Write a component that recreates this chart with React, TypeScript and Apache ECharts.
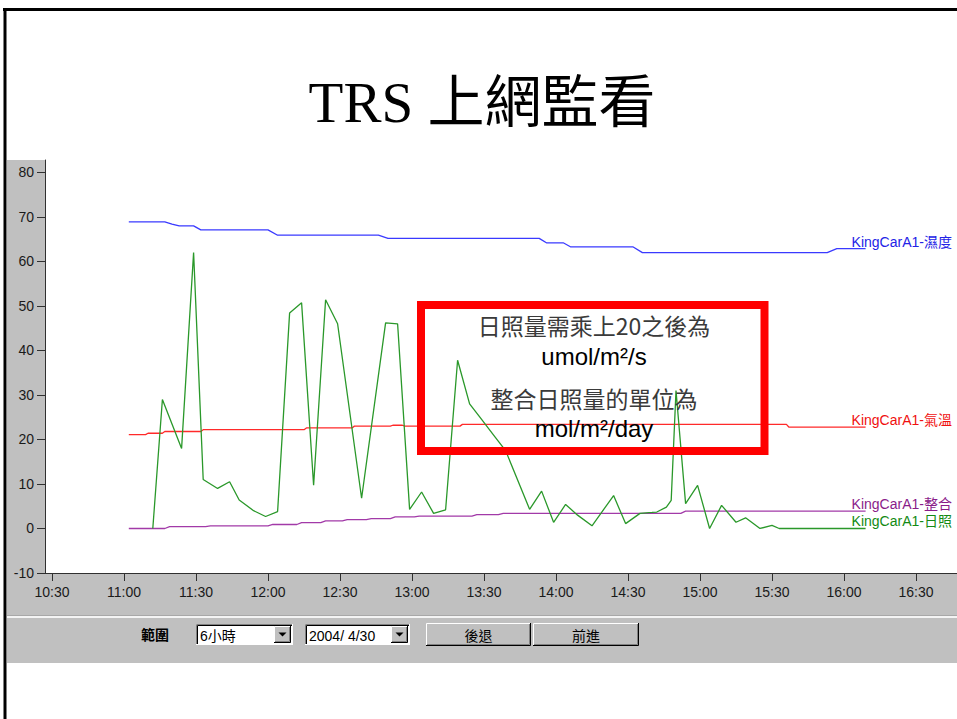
import React, { useEffect, useRef } from "react";
import * as echarts from "echarts";

// ---- data (minutes after 11:00) ----
const xTickLabels = ["10:30", "11:00", "11:30", "12:00", "12:30", "13:00", "13:30", "14:00", "14:30", "15:00", "15:30", "16:00", "16:30"];
const yTicks = [-10, 0, 10, 20, 30, 40, 50, 60, 70, 80];

const humidityTimes = [2, 17, 20, 23, 29, 32, 60, 64, 106, 110, 173, 176, 183, 186, 212, 216, 293, 297, 309];
const humidityValues = [68.9, 68.9, 68.4, 68.0, 68.0, 67.1, 67.1, 65.9, 65.9, 65.2, 65.2, 64.2, 64.2, 63.3, 63.3, 62.0, 62.0, 62.9, 62.9];

const tempTimes = [2, 9, 10, 16, 17, 32, 33, 75, 76, 95, 96, 111, 112, 116, 117, 140, 141, 276, 277, 309];
const tempValues = [21.1, 21.1, 21.4, 21.4, 21.8, 21.8, 22.2, 22.2, 22.6, 22.6, 23.0, 23.0, 23.2, 23.2, 23.0, 23.0, 23.4, 23.4, 22.8, 22.8];

const integTimes = [2, 17, 19, 34, 36, 60, 62, 72, 74, 82, 84, 91, 93, 101, 103, 111, 113, 121, 123, 145, 147, 156, 158, 232, 234, 309];
const integValues = [0, 0, 0.4, 0.4, 0.6, 0.6, 0.9, 0.9, 1.3, 1.3, 1.7, 1.7, 2.0, 2.0, 2.2, 2.2, 2.6, 2.6, 2.8, 2.8, 3.1, 3.1, 3.4, 3.4, 3.9, 3.9];

const sunTimes = [12, 16, 24, 29, 33, 39, 44, 48, 54, 59, 64, 69, 74, 79, 84, 89, 99, 109, 114, 119, 124, 129, 134, 139, 144, 149, 154, 159, 169, 174, 179, 184, 189, 195, 204, 209, 215, 220, 222, 226, 228, 230, 234, 239, 244, 249, 255, 259, 265, 270, 273, 309];
const sunValues = [0, 29, 18, 62, 11, 9, 10.5, 6.4, 4, 2.7, 3.8, 48.4, 50.7, 9.7, 51.4, 46, 6.8, 46.2, 46, 4.3, 8.2, 3.4, 4.2, 37.8, 28, 24.5, 21, 17.5, 4.3, 8.4, 1.4, 5.4, 3, 0.6, 7.4, 1.1, 3.4, 3.6, 3.7, 4.8, 6.3, 31, 5.6, 9.7, 0, 5.2, 1.4, 2.4, 0, 0.7, 0, 0];

const seriesNames = ["KingCarA1-濕度", "KingCarA1-氣溫", "KingCarA1-整合", "KingCarA1-日照"];
const seriesColors = ["#3a3aff", "#ff2a2a", "#a23aa8", "#2a982a"];
const labelColors = ["#2323e6", "#f01010", "#8a1c8a", "#138a13"];

const noteLines = ["日照量需乘上20之後為", "umol/m²/s", "整合日照量的單位為", "mol/m²/day"];

const BASE = 660; // 11:00 in minutes
const toMin = (s: string) => {
  const [h, m] = s.split(":").map(Number);
  return h * 60 + m;
};
const fmtClock = (v: number) => {
  const h = Math.floor(v / 60);
  const m = Math.round(v - h * 60);
  return `${h}:${m < 10 ? "0" + m : m}`;
};

const pairs = (ts: number[], vs: number[]) => ts.map((t, i) => [BASE + t, vs[i]]);

const UI_FONT = "'Liberation Sans', 'Noto Sans CJK TC', sans-serif";

function sunken(x: number, y: number, w: number, h: number): any[] {
  return [
    { type: "rect", z: 20, shape: { x, y, width: w, height: h }, style: { fill: "#ffffff" } },
    { type: "polyline", z: 21, shape: { points: [[x + 0.5, y + h], [x + 0.5, y + 0.5], [x + w, y + 0.5]] }, style: { stroke: "#808080", lineWidth: 1, fill: null } },
    { type: "polyline", z: 21, shape: { points: [[x + 1.5, y + h - 1], [x + 1.5, y + 1.5], [x + w - 1, y + 1.5]] }, style: { stroke: "#000000", lineWidth: 1, fill: null } },
    { type: "polyline", z: 21, shape: { points: [[x, y + h - 0.5], [x + w - 0.5, y + h - 0.5], [x + w - 0.5, y]] }, style: { stroke: "#ffffff", lineWidth: 1, fill: null } },
  ];
}

function raised(x: number, y: number, w: number, h: number): any[] {
  return [
    { type: "rect", z: 20, shape: { x, y, width: w, height: h }, style: { fill: "#c0c0c0" } },
    { type: "polyline", z: 21, shape: { points: [[x + 0.5, y + h], [x + 0.5, y + 0.5], [x + w, y + 0.5]] }, style: { stroke: "#ffffff", lineWidth: 1, fill: null } },
    { type: "polyline", z: 21, shape: { points: [[x, y + h - 0.5], [x + w - 0.5, y + h - 0.5], [x + w - 0.5, y]] }, style: { stroke: "#000000", lineWidth: 1, fill: null } },
    { type: "polyline", z: 21, shape: { points: [[x + 1, y + h - 1.5], [x + w - 1.5, y + h - 1.5], [x + w - 1.5, y + 1]] }, style: { stroke: "#808080", lineWidth: 1, fill: null } },
  ];
}

function combo(x: number, y: number, w: number, h: number, text: string): any[] {
  const bw = 17;
  const bx = x + w - bw - 2;
  const by = y + 2;
  const bh = h - 4;
  const cx = bx + bw / 2;
  const cy = by + bh / 2;
  return [
    ...sunken(x, y, w, h),
    { type: "text", z: 22, style: { text, x: x + 4, y: y + h / 2 + 1, textVerticalAlign: "middle", fontSize: 14, fontFamily: UI_FONT, fill: "#000" } },
    ...raised(bx, by, bw, bh).map((e) => ({ ...e, z: e.z + 3 })),
    { type: "polygon", z: 26, shape: { points: [[cx - 4, cy - 2], [cx + 4, cy - 2], [cx, cy + 2]] }, style: { fill: "#000" } },
  ];
}

function button(x: number, y: number, w: number, h: number, text: string): any[] {
  return [
    ...raised(x, y, w, h),
    { type: "text", z: 22, style: { text, x: x + w / 2, y: y + h / 2 + 1, textAlign: "center", textVerticalAlign: "middle", fontSize: 14, fontFamily: UI_FONT, fill: "#000" } },
  ];
}

export default function App() {
  const ref = useRef<HTMLDivElement>(null);

  useEffect(() => {
    if (!ref.current) return;
    const chart = echarts.init(ref.current, undefined, { renderer: "svg" });

    const xTickValues = xTickLabels.map(toMin);
    const pxPerMin = 2.4;
    const xMin = xTickValues[0] - 7 / pxPerMin;
    const xMax = xMin + 912 / pxPerMin;

    const datasets = [
      pairs(humidityTimes, humidityValues),
      pairs(tempTimes, tempValues),
      pairs(integTimes, integValues),
      pairs(sunTimes, sunValues),
    ];

    const series = datasets.map((data, i) => ({
      type: "line",
      name: seriesNames[i],
      data,
      symbol: "none",
      showSymbol: false,
      z: i === 3 ? 4 : 3,
      lineStyle: { color: seriesColors[i], width: 1.3 },
      itemStyle: { color: seriesColors[i] },
      markPoint: {
        symbol: "circle",
        symbolSize: 0,
        silent: true,
        data: [{ coord: data[data.length - 1] }],
        label: {
          show: true,
          position: "right",
          distance: 0,
          offset: [-14, -7],
          formatter: seriesNames[i],
          color: labelColors[i],
          fontSize: 14,
          fontFamily: UI_FONT,
        },
      },
    }));

    const graphics: any[] = [
      // gray panel pieces
      { type: "rect", z: -1, shape: { x: 7, y: 160, width: 38, height: 503 }, style: { fill: "#c0c0c0" } },
      { type: "rect", z: -1, shape: { x: 45, y: 573, width: 912, height: 90 }, style: { fill: "#c0c0c0" } },
      { type: "line", z: 1, shape: { x1: 7, y1: 615.5, x2: 957, y2: 615.5 }, style: { stroke: "#a8a8a8", lineWidth: 1 } },
      { type: "line", z: 1, shape: { x1: 7, y1: 617, x2: 957, y2: 617 }, style: { stroke: "#f4f4f4", lineWidth: 2 } },
      // slide frame
      { type: "line", z: 30, shape: { x1: 3, y1: 9.5, x2: 957, y2: 9.5 }, style: { stroke: "#000", lineWidth: 3 } },
      { type: "line", z: 30, shape: { x1: 5, y1: 8, x2: 5, y2: 719 }, style: { stroke: "#000", lineWidth: 3 } },
      // title
      {
        type: "text",
        z: 30,
        style: {
          text: "TRS 上網監看",
          x: 482,
          y: 102,
          textAlign: "center",
          textVerticalAlign: "middle",
          fontSize: 57,
          fontFamily: "'Liberation Serif', 'Noto Sans CJK TC', serif",
          fill: "#000",
        },
      },
      // annotation box
      { type: "rect", z: 10, shape: { x: 421, y: 305, width: 343.5, height: 146 }, style: { fill: null, stroke: "#ff0000", lineWidth: 8 } },
      ...noteLines.map((t, i) => ({
        type: "text",
        z: 11,
        style: {
          text: t,
          x: 594,
          y: [325, 356, 398, 428][i],
          textAlign: "center",
          textVerticalAlign: "middle",
          fontSize: i % 2 === 0 ? 23 : 24,
          fontFamily: i % 2 === 0 ? "'Noto Sans CJK TC', 'Liberation Sans', sans-serif" : "'Liberation Sans', sans-serif",
          fill: i % 2 === 0 ? "#3a3a3a" : "#000",
        },
      })),
      // controls
      { type: "text", z: 22, style: { text: "範圍", x: 141, y: 635, textVerticalAlign: "middle", fontSize: 14, fontFamily: UI_FONT, fill: "#000", fontWeight: "bold" } },
      ...combo(196, 624, 97, 21, "6小時"),
      ...combo(305, 624, 105, 21, "2004/ 4/30"),
      ...button(426, 623, 105, 23, "後退"),
      ...button(533, 623, 106, 23, "前進"),
    ];

    chart.setOption({
      animation: false,
      backgroundColor: "#ffffff",
      grid: { left: 45, right: 0, top: 160, bottom: 146, containLabel: false },
      xAxis: {
        type: "value",
        min: xMin,
        max: xMax,
        axisLine: { onZero: false, lineStyle: { color: "#303030", width: 1 } },
        axisTick: { show: true, length: 8, lineStyle: { color: "#303030" }, customValues: xTickValues },
        axisLabel: {
          customValues: xTickValues,
          formatter: (v: number) => fmtClock(v),
          margin: 12,
          fontSize: 14,
          color: "#1a1a1a",
          fontFamily: UI_FONT,
        },
        splitLine: { show: false },
      },
      yAxis: {
        type: "value",
        min: -10,
        max: 82.8,
        axisLine: { show: true, onZero: false, lineStyle: { color: "#303030", width: 1 } },
        axisTick: { show: true, length: 8, lineStyle: { color: "#303030" }, customValues: yTicks },
        axisLabel: {
          customValues: yTicks,
          margin: 11,
          fontSize: 14,
          color: "#1a1a1a",
          fontFamily: UI_FONT,
        },
        splitLine: { show: false },
      },
      series,
      graphic: { elements: graphics },
    });

    return () => chart.dispose();
  }, []);

  return (
    <div
      ref={ref}
      style={{ position: "fixed", left: 0, top: 0, width: 957, height: 719, background: "#fff" }}
    />
  );
}
